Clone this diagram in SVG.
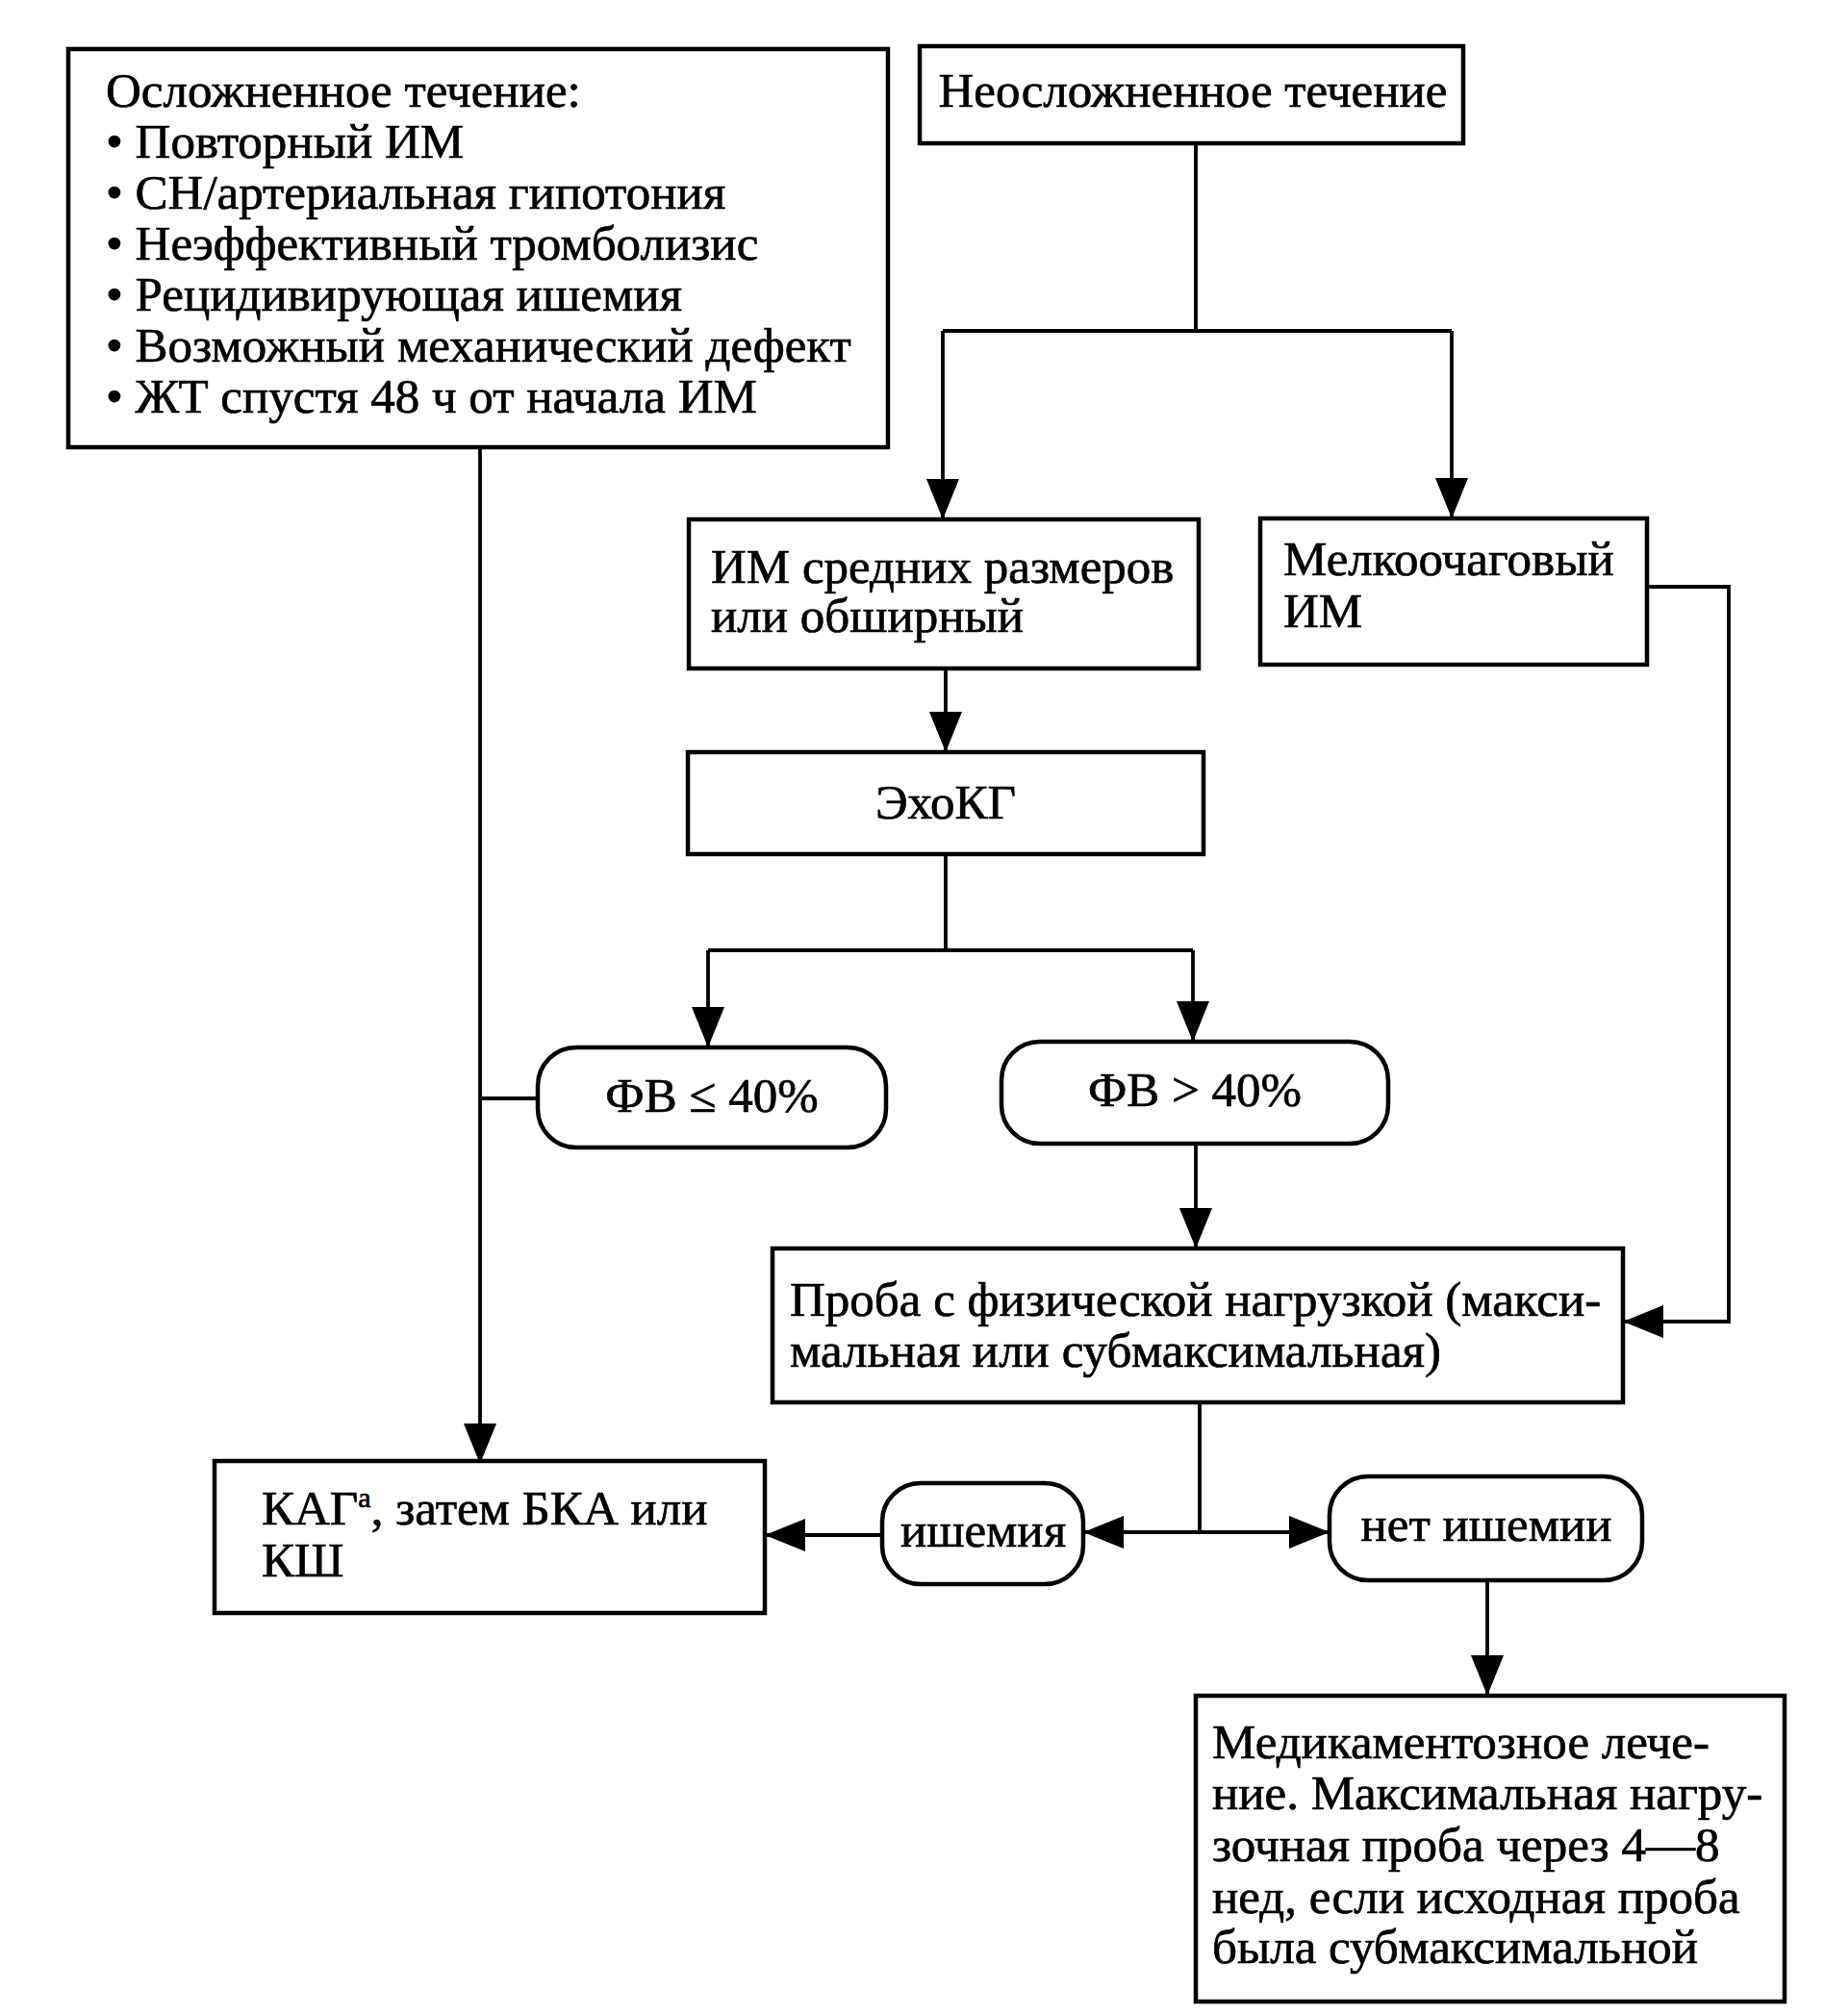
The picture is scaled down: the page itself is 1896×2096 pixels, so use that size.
<svg xmlns="http://www.w3.org/2000/svg" width="1896" height="2096" viewBox="0 0 1896 2096">
<style>
.box{fill:#fff;stroke:#000;stroke-width:4.5}
.ln{fill:none;stroke:#000;stroke-width:3.8}
text{font-family:"Liberation Serif","Times New Roman",serif;font-size:51px;fill:#000;stroke:#000;stroke-width:0.7}
.c{text-anchor:middle}
</style>
<defs>
<marker id="ah" markerUnits="userSpaceOnUse" markerWidth="42" markerHeight="36" refX="42" refY="17" orient="auto">
<path d="M0,0 L42,17 L0,34 z" fill="#000"/>
</marker>
</defs>
<rect width="1896" height="2096" fill="#fff"/>
<g id="connectors">
<path class="ln" d="M499,465 V1522" marker-end="url(#ah)"/>
<path class="ln" d="M499,1142 H559"/>
<path class="ln" d="M1243,149 V344 M980,344 H1509"/>
<path class="ln" d="M980,344 V540" marker-end="url(#ah)"/>
<path class="ln" d="M1509,344 V539" marker-end="url(#ah)"/>
<path class="ln" d="M983,695 V782" marker-end="url(#ah)"/>
<path class="ln" d="M983,888 V988 M736,988 H1240"/>
<path class="ln" d="M736,988 V1089" marker-end="url(#ah)"/>
<path class="ln" d="M1240,988 V1083" marker-end="url(#ah)"/>
<path class="ln" d="M1243,1189 V1298" marker-end="url(#ah)"/>
<path class="ln" d="M1712,610 H1797 V1374 H1687" marker-end="url(#ah)"/>
<path class="ln" d="M1247,1458 V1593"/>
<path class="ln" d="M1247,1593 H1126" marker-end="url(#ah)"/>
<path class="ln" d="M1247,1593 H1382" marker-end="url(#ah)"/>
<path class="ln" d="M917,1596 H795" marker-end="url(#ah)"/>
<path class="ln" d="M1546,1643 V1763" marker-end="url(#ah)"/>
</g>
<g id="complicated">
<rect class="box" x="71" y="51" width="852" height="414"/>
<text x="110" y="111">Осложненное течение:</text>
<text x="110" y="164">• Повторный ИМ</text>
<text x="110" y="217">• СН/артериальная гипотония</text>
<text x="110" y="270">• Неэффективный тромболизис</text>
<text x="110" y="323">• Рецидивирующая ишемия</text>
<text x="110" y="376">• Возможный механический дефект</text>
<text x="110" y="429">• ЖТ спустя 48 ч от начала ИМ</text>
</g>
<g id="uncomplicated">
<rect class="box" x="956" y="48" width="565" height="101"/>
<text class="c" x="1240" y="111">Неосложненное течение</text>
</g>
<g id="large-mi">
<rect class="box" x="716" y="540" width="530" height="155"/>
<text x="739" y="606">ИМ средних размеров</text>
<text x="739" y="657">или обширный</text>
</g>
<g id="small-mi">
<rect class="box" x="1310" y="539" width="402" height="152"/>
<text x="1334" y="598">Мелкоочаговый</text>
<text x="1334" y="652">ИМ</text>
</g>
<g id="echo">
<rect class="box" x="715" y="782" width="536" height="106"/>
<text class="c" x="983" y="851">ЭхоКГ</text>
</g>
<g id="ef-low">
<rect class="box" x="559" y="1089" width="362" height="104" rx="40"/>
<text class="c" x="740" y="1156">ФВ ≤ 40%</text>
</g>
<g id="ef-high">
<rect class="box" x="1041" y="1083" width="402" height="106" rx="40"/>
<text class="c" x="1242" y="1150">ФВ &gt; 40%</text>
</g>
<g id="stress-test">
<rect class="box" x="803" y="1298" width="884" height="160"/>
<text x="821" y="1368">Проба с физической нагрузкой (макси-</text>
<text x="821" y="1421">мальная или субмаксимальная)</text>
</g>
<g id="ischemia">
<rect class="box" x="917" y="1542" width="209" height="105" rx="40"/>
<text class="c" x="1022" y="1608">ишемия</text>
</g>
<g id="no-ischemia">
<rect class="box" x="1382" y="1535" width="325" height="108" rx="40"/>
<text class="c" x="1545" y="1602">нет ишемии</text>
</g>
<g id="cag">
<rect class="box" x="223" y="1519" width="572" height="158"/>
<text x="272" y="1585">КАГ<tspan font-size="30" dy="-18">а</tspan><tspan dy="18">, затем БКА или</tspan></text>
<text x="272" y="1639">КШ</text>
</g>
<g id="medical">
<rect class="box" x="1243" y="1763" width="612" height="318"/>
<text x="1260" y="1828">Медикаментозное лече-</text>
<text x="1260" y="1881">ние. Максимальная нагру-</text>
<text x="1260" y="1935">зочная проба через 4—8</text>
<text x="1260" y="1989">нед, если исходная проба</text>
<text x="1260" y="2041">была субмаксимальной</text>
</g>
</svg>
